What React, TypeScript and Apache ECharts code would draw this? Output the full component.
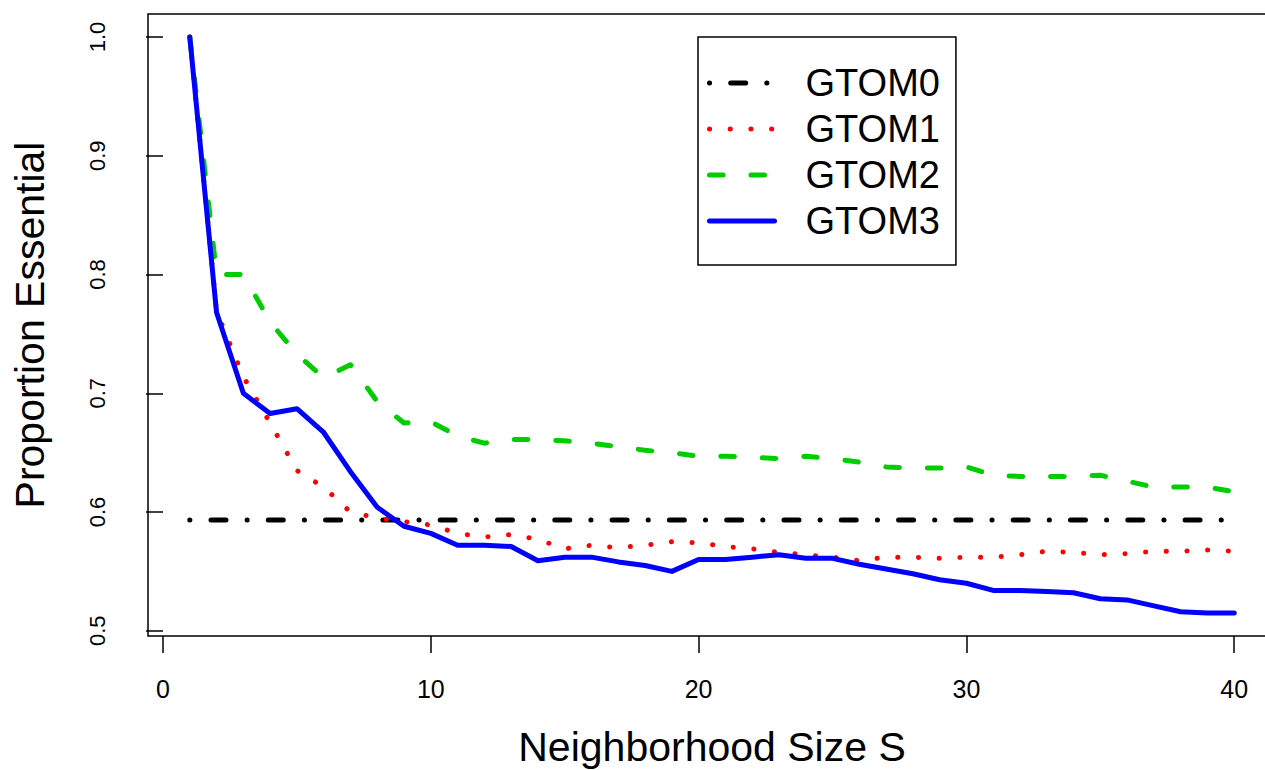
import React, { useEffect, useRef } from "react";
import * as echarts from "echarts";

const S = [1, 2, 3, 4, 5, 6, 7, 8, 9, 10, 11, 12, 13, 14, 15, 16, 17, 18, 19, 20, 21, 22, 23, 24, 25, 26, 27, 28, 29, 30, 31, 32, 33, 34, 35, 36, 37, 38, 39, 40];

const GTOM0 = [0.5933, 0.5933, 0.5933, 0.5933, 0.5933, 0.5933, 0.5933, 0.5933, 0.5933, 0.5933, 0.5933, 0.5933, 0.5933, 0.5933, 0.5933, 0.5933, 0.5933, 0.5933, 0.5933, 0.5933, 0.5933, 0.5933, 0.5933, 0.5933, 0.5933, 0.5933, 0.5933, 0.5933, 0.5933, 0.5933, 0.5933, 0.5933, 0.5933, 0.5933, 0.5933, 0.5933, 0.5933, 0.5933, 0.5933, 0.5933];

const GTOM1 = [1.0, 0.769, 0.714, 0.675, 0.635, 0.621, 0.6, 0.595, 0.592, 0.589, 0.582, 0.579, 0.581, 0.577, 0.569, 0.572, 0.57, 0.572, 0.575, 0.574, 0.571, 0.569, 0.566, 0.564, 0.562, 0.559, 0.562, 0.562, 0.561, 0.562, 0.562, 0.564, 0.567, 0.566, 0.564, 0.565, 0.567, 0.567, 0.568, 0.567];

const GTOM2 = [1.0, 0.8, 0.8, 0.76, 0.733, 0.713, 0.724, 0.693, 0.675, 0.676, 0.664, 0.658, 0.661, 0.661, 0.66, 0.658, 0.655, 0.652, 0.65, 0.647, 0.647, 0.646, 0.645, 0.647, 0.645, 0.642, 0.638, 0.637, 0.637, 0.638, 0.631, 0.63, 0.63, 0.63, 0.631, 0.626, 0.621, 0.621, 0.621, 0.617];

const GTOM3 = [1.0, 0.768, 0.7, 0.683, 0.687, 0.667, 0.634, 0.604, 0.588, 0.582, 0.572, 0.572, 0.571, 0.559, 0.562, 0.562, 0.558, 0.555, 0.55, 0.56, 0.56, 0.562, 0.564, 0.561, 0.561, 0.556, 0.552, 0.548, 0.543, 0.54, 0.534, 0.534, 0.533, 0.532, 0.527, 0.526, 0.521, 0.516, 0.515, 0.515];

const X_TICKS = [0, 10, 20, 30, 40];
const Y_TICKS = [0.5, 0.6, 0.7, 0.8, 0.9, 1.0];

const FONT = "'Liberation Sans', Arial, Helvetica, sans-serif";

export default function App() {
  const ref = useRef<HTMLDivElement>(null);
  useEffect(() => {
    if (!ref.current) return;
    const chart = echarts.init(ref.current, null, { renderer: "svg" });
    const pairs = (ys: number[]) => S.map((x, i) => [x, ys[i]]);
    const mk = (name: string, ys: number[], color: string, type: any) => ({
      type: "line",
      name,
      data: pairs(ys),
      symbol: "none",
      showSymbol: false,
      lineStyle: { color, width: 5, type, cap: "round", join: "round" },
      itemStyle: { color },
      emphasis: { disabled: true },
      silent: true,
    });
    chart.setOption({
      animation: false,
      textStyle: { fontFamily: FONT, color: "#000" },
      grid: {
        left: 148,
        top: 14,
        width: 1128,
        height: 622,
        show: true,
        borderColor: "#000",
        borderWidth: 1.5,
        backgroundColor: "transparent",
        containLabel: false,
        outerBoundsMode: "none",
      },
      xAxis: {
        type: "value",
        min: -0.56,
        max: 41.56,
        axisLine: { show: false },
        splitLine: { show: false },
        axisTick: {
          show: true,
          inside: false,
          length: 17,
          customValues: X_TICKS,
          lineStyle: { color: "#000", width: 1.5 },
        },
        axisLabel: {
          customValues: X_TICKS,
          fontSize: 25,
          color: "#000",
          margin: 40,
          fontFamily: FONT,
        },
        name: "Neighborhood Size S",
        nameLocation: "middle",
        nameGap: 90,
        nameTextStyle: { fontSize: 41, color: "#000", fontFamily: FONT },
      },
      yAxis: {
        type: "value",
        min: 0.4956,
        max: 1.0194,
        axisLine: { show: false },
        splitLine: { show: false },
        axisTick: {
          show: true,
          inside: false,
          length: 17,
          customValues: Y_TICKS,
          lineStyle: { color: "#000", width: 1.5 },
        },
        axisLabel: {
          customValues: Y_TICKS,
          fontSize: 22,
          color: "#000",
          rotate: 90,
          margin: 40,
          fontFamily: FONT,
          formatter: (v: number) => v.toFixed(1),
        },
        name: "Proportion Essential",
        nameLocation: "middle",
        nameGap: 98,
        nameRotate: 90,
        nameTextStyle: { fontSize: 41, color: "#000", fontFamily: FONT },
      },
      legend: {
        show: true,
        orient: "vertical",
        left: 698,
        top: 37,
        padding: [23, 16, 21, 9],
        itemGap: 0,
        itemWidth: 65,
        itemHeight: 2,
        borderColor: "#000",
        borderWidth: 1.5,
        borderRadius: 0,
        backgroundColor: "#fff",
        selectedMode: false,
        itemStyle: { color: "rgba(0,0,0,0)", borderColor: "rgba(0,0,0,0)", borderWidth: 0 },
        textStyle: {
          fontSize: 38,
          lineHeight: 46,
          color: "#000",
          fontFamily: FONT,
          padding: [0, 0, 0, 26],
        },
        lineStyle: { width: 5 },
        data: ["GTOM0", "GTOM1", "GTOM2", "GTOM3"],
      },
      series: [
        mk("GTOM0", GTOM0, "#000000", [0.1, 21.1, 15, 21.1]),
        mk("GTOM1", GTOM1, "#FF0000", [0.1, 20.6]),
        mk("GTOM2", GTOM2, "#00CD00", [13.5, 28]),
        mk("GTOM3", GTOM3, "#0000FF", "solid"),
      ],
    });
    return () => chart.dispose();
  }, []);
  return (
    <div
      ref={ref}
      style={{ position: "fixed", left: 0, top: 0, width: 1265, height: 770, background: "#fff" }}
    />
  );
}
